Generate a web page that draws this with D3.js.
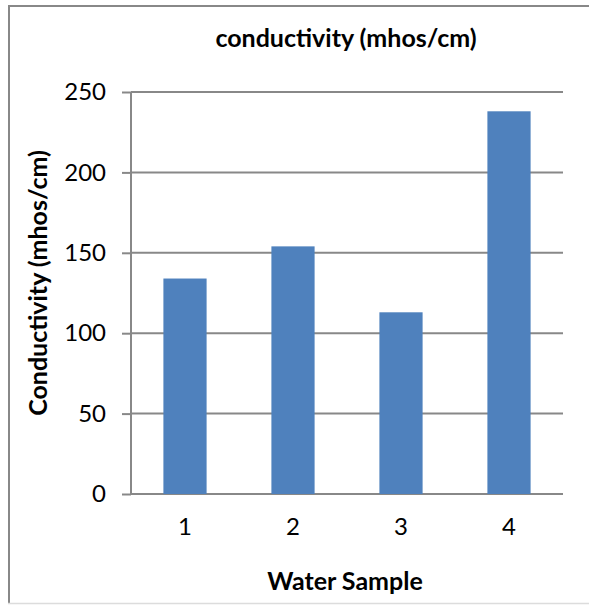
<!DOCTYPE html>
<html>
<head>
<meta charset="utf-8">
<script src="https://cdn.jsdelivr.net/npm/d3@7"></script>
<style>
  html, body { margin: 0; padding: 0; background: #fff; }
  svg { display: block; }
  text { font-family: Lato, "Open Sans", sans-serif; fill: #000; }
</style>
</head>
<body>
<script>
// Conductivity readings per water sample
const samples = ["1", "2", "3", "4"];
const conductivity = [134, 154, 113, 238];
const yTicks = [0, 50, 100, 150, 200, 250];
const chartTitle = "conductivity (mhos/cm)";
const xTitle = "Water Sample";
const yTitle = "Conductivity (mhos/cm)";

const W = 589, H = 605;
const plot = { left: 131, right: 563, top: 92, bottom: 494 };

const svg = d3.select("body").append("svg")
  .attr("width", W).attr("height", H);

// chart frame
svg.append("line").attr("x1", 9).attr("x2", 9).attr("y1", 6).attr("y2", 604)
  .attr("stroke", "#888").attr("stroke-width", 2);
svg.append("line").attr("x1", 8).attr("x2", W).attr("y1", 6).attr("y2", 6)
  .attr("stroke", "#888").attr("stroke-width", 2);
svg.append("line").attr("x1", 8).attr("x2", W).attr("y1", 603.5).attr("y2", 603.5)
  .attr("stroke", "#dcdcdc").attr("stroke-width", 1.5);

const x = d3.scaleBand().domain(samples)
  .range([plot.left, plot.right]).paddingInner(0.6).paddingOuter(0.3);
const y = d3.scaleLinear().domain([0, 250]).range([plot.bottom, plot.top]);

// y axis ticks and labels
const yAxis = d3.axisLeft(y).tickValues(yTicks).tickSize(9).tickPadding(16);
const gy = svg.append("g").attr("transform", `translate(${plot.left},0)`).call(yAxis);
gy.select(".domain").remove();
gy.selectAll(".tick line").attr("stroke", "#888").attr("stroke-width", 2);
gy.selectAll(".tick text")
  .style("font-size", "24px").style("font-family", "Lato, sans-serif").attr("fill", "#000");

// horizontal gridlines
svg.append("g").selectAll("line").data(yTicks).join("line")
  .attr("x1", plot.left).attr("x2", plot.right)
  .attr("y1", d => y(d)).attr("y2", d => y(d))
  .attr("stroke", "#888").attr("stroke-width", 2);

// bars
svg.append("g").selectAll("rect").data(samples).join("rect")
  .attr("x", d => x(d))
  .attr("width", x.bandwidth())
  .attr("y", (d, i) => y(conductivity[i]))
  .attr("height", (d, i) => y(0) - y(conductivity[i]))
  .attr("fill", "#4f81bd");

// vertical axis line
svg.append("line").attr("x1", plot.left).attr("x2", plot.left)
  .attr("y1", plot.top).attr("y2", plot.bottom)
  .attr("stroke", "#888").attr("stroke-width", 2);

// x axis labels
const xAxis = d3.axisBottom(x).tickSize(0).tickPadding(24);
const gx = svg.append("g").attr("transform", `translate(0,${plot.bottom})`).call(xAxis);
gx.select(".domain").remove();
gx.selectAll(".tick text")
  .style("font-size", "24px").style("font-family", "Lato, sans-serif").attr("fill", "#000");

// titles
svg.append("text").attr("x", 346).attr("y", 47).attr("text-anchor", "middle")
  .style("font-size", "25px").style("font-weight", "bold").text(chartTitle);
svg.append("text").attr("x", 345).attr("y", 590).attr("text-anchor", "middle")
  .style("font-size", "25px").style("font-weight", "bold").text(xTitle);
svg.append("text").attr("transform", "translate(47,283) rotate(-90)")
  .attr("text-anchor", "middle")
  .style("font-size", "25px").style("font-weight", "bold").text(yTitle);
</script>
</body>
</html>
